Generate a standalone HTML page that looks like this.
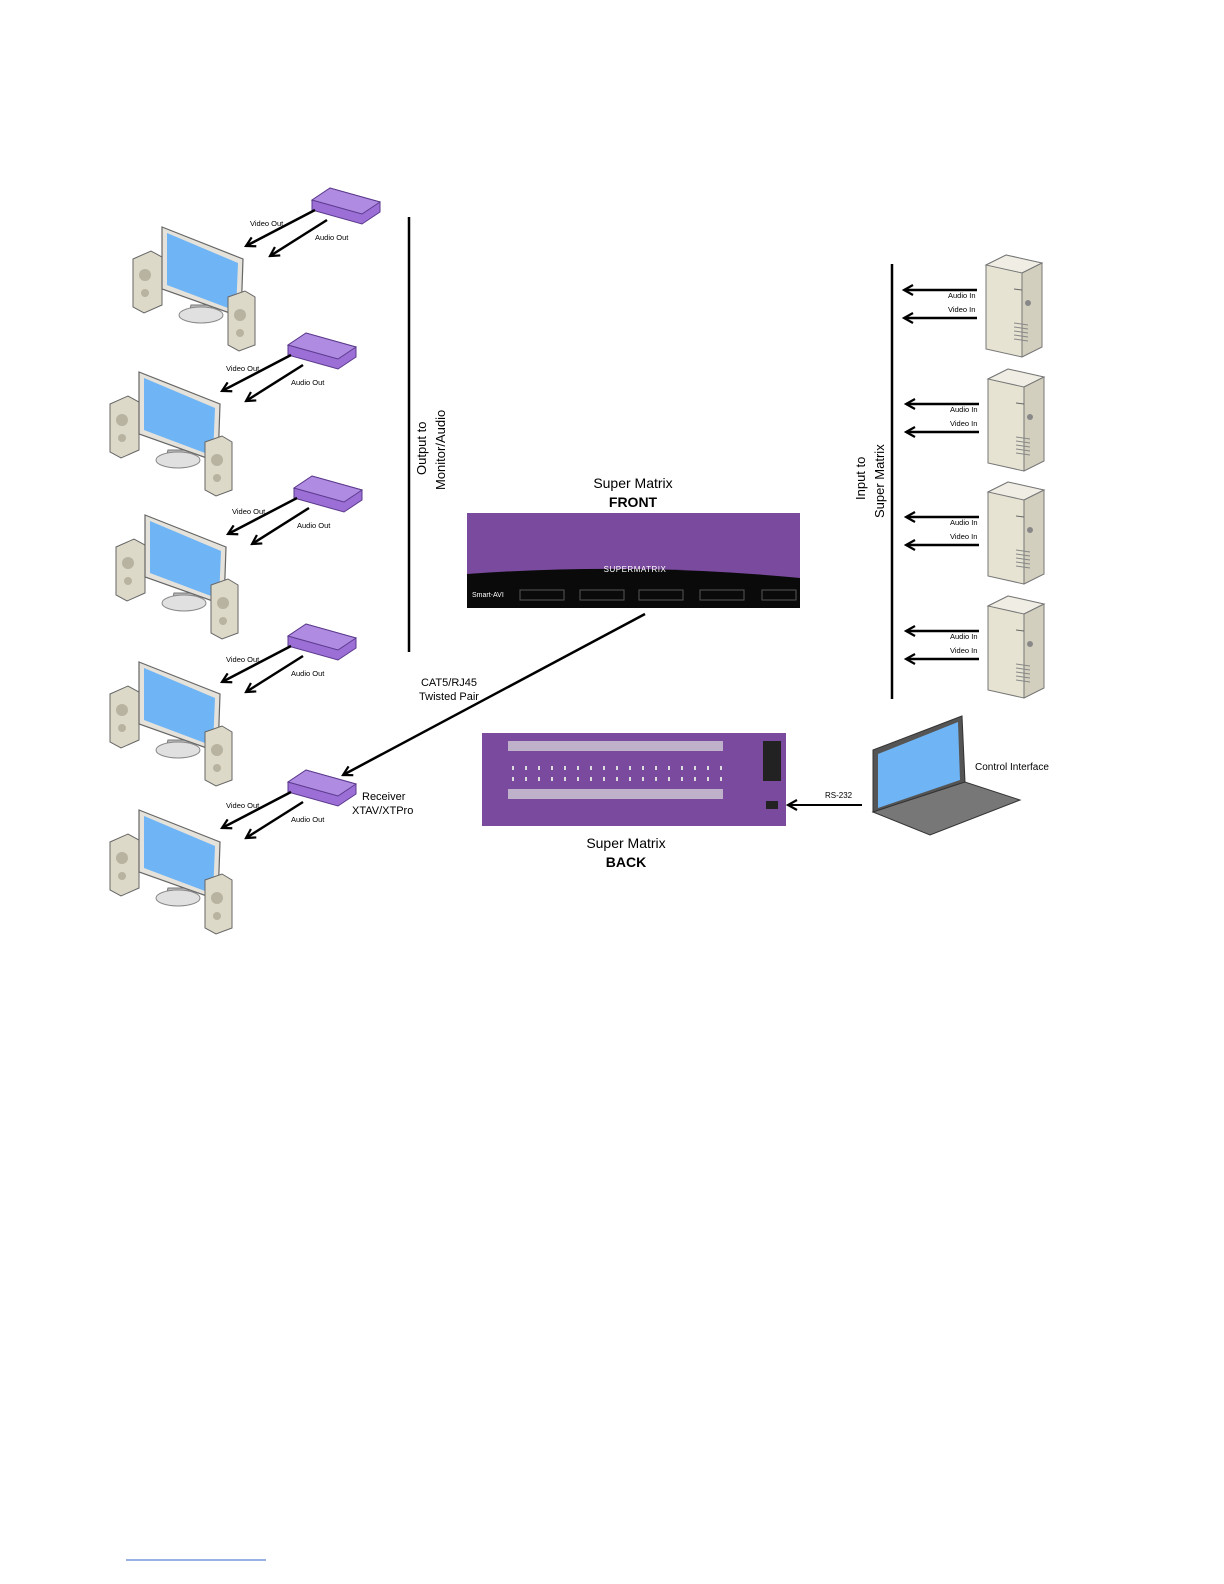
<!DOCTYPE html>
<html><head><meta charset="utf-8"><style>
html,body{margin:0;padding:0;background:#fff;}
svg{display:block;font-family:"Liberation Sans",Arial,sans-serif;}
</style></head><body>
<svg width="1224" height="1584" viewBox="0 0 1224 1584" xmlns="http://www.w3.org/2000/svg">
<defs>
<marker id="ah" markerWidth="12" markerHeight="12" refX="10" refY="6" orient="auto" markerUnits="userSpaceOnUse">
<path d="M1,1 L10,6 L1,11" fill="none" stroke="#000" stroke-width="2.2"/>
</marker>
<g id="mon">
<polygon points="0,34 18,26 29,32 29,80 11,88 0,82" fill="#ddd9c8" stroke="#666" stroke-width="1"/>
<circle cx="12" cy="50" r="6" fill="#b8b3a0"/><circle cx="12" cy="68" r="4" fill="#b8b3a0"/>
<polygon points="58,80 78,80 80,88 56,88" fill="#bbb" stroke="#777"/>
<ellipse cx="68" cy="90" rx="22" ry="8" fill="#e0e0e0" stroke="#888"/>
<polygon points="29,2 110,34 108,92 29,64" fill="#e4e2da" stroke="#666" stroke-width="1.2"/>
<polygon points="34,8 105,38 103,86 34,60" fill="#6fb4f5"/>
<polygon points="95,72 112,66 122,72 122,120 106,126 95,120" fill="#ddd9c8" stroke="#666"/>
<circle cx="107" cy="90" r="6" fill="#b8b3a0"/><circle cx="107" cy="108" r="4" fill="#b8b3a0"/>
</g>
<g id="box">
<polygon points="0,12 18,0 68,14 68,24 50,36 0,22" fill="#9b6fd6" stroke="#5b3a8c" stroke-width="1"/>
<polygon points="0,12 18,0 68,14 50,26" fill="#b08be2" stroke="#5b3a8c" stroke-width="1"/>
<line x1="3" y1="22" x2="-66" y2="58" stroke="#000" stroke-width="2.5" marker-end="url(#ah)"/>
<line x1="15" y1="32" x2="-42" y2="68" stroke="#000" stroke-width="2.5" marker-end="url(#ah)"/>
<text x="-62" y="38" font-size="7.5">Video Out</text>
<text x="3" y="52" font-size="7.5">Audio Out</text>
</g>
<g id="tower">
<polygon points="0,10 20,0 56,8 56,92 36,102 0,94" fill="#e6e3d3" stroke="#777"/>
<polygon points="0,10 20,0 56,8 36,18" fill="#f0eee4" stroke="#777"/>
<polygon points="36,18 56,8 56,92 36,102" fill="#d3cfbe" stroke="#777"/>
<line x1="28" y1="34" x2="36" y2="35" stroke="#666"/>
<circle cx="42" cy="48" r="3" fill="#888"/>
<g stroke="#888"><line x1="28" y1="68" x2="42" y2="70"/><line x1="28" y1="72" x2="42" y2="74"/><line x1="28" y1="76" x2="42" y2="78"/><line x1="28" y1="80" x2="42" y2="82"/><line x1="28" y1="84" x2="42" y2="86"/></g>
<line x1="-9" y1="35" x2="-82" y2="35" stroke="#000" stroke-width="2.5" marker-end="url(#ah)"/>
<line x1="-9" y1="63" x2="-82" y2="63" stroke="#000" stroke-width="2.5" marker-end="url(#ah)"/>
<text x="-38" y="43" font-size="7.5">Audio In</text>
<text x="-38" y="57" font-size="7.5">Video In</text>
</g>
</defs>

<use href="#mon" x="133" y="225"/>
<use href="#mon" x="110" y="370"/>
<use href="#mon" x="116" y="513"/>
<use href="#mon" x="110" y="660"/>
<use href="#mon" x="110" y="808"/>
<use href="#box" x="312" y="188"/>
<use href="#box" x="288" y="333"/>
<use href="#box" x="294" y="476"/>
<use href="#box" x="288" y="624"/>
<use href="#box" x="288" y="770"/>

<use href="#tower" x="986" y="255"/>
<use href="#tower" x="988" y="369"/>
<use href="#tower" x="988" y="482"/>
<use href="#tower" x="988" y="596"/>

<line x1="409" y1="217" x2="409" y2="652" stroke="#000" stroke-width="2.5"/>
<line x1="892" y1="264" x2="892" y2="699" stroke="#000" stroke-width="2.5"/>
<text transform="translate(426,475) rotate(-90)" font-size="13">Output to</text>
<text transform="translate(445,490) rotate(-90)" font-size="13">Monitor/Audio</text>
<text transform="translate(865,500) rotate(-90)" font-size="13">Input to</text>
<text transform="translate(884,518) rotate(-90)" font-size="13">Super Matrix</text>

<text x="633" y="488" font-size="14" text-anchor="middle">Super Matrix</text>
<text x="633" y="507" font-size="14" font-weight="bold" text-anchor="middle">FRONT</text>
<rect x="467" y="513" width="333" height="95" fill="#7a4a9e"/>
<path d="M467,574 Q633,562 800,578 L800,608 L467,608 Z" fill="#0a0a0a"/>
<text x="635" y="572" font-size="8" fill="#fff" text-anchor="middle" letter-spacing="0.5">SUPERMATRIX</text>
<text x="472" y="597" font-size="7" fill="#fff">Smart-AVI</text>
<g fill="none" stroke="#555"><rect x="520" y="590" width="44" height="10"/><rect x="580" y="590" width="44" height="10"/><rect x="639" y="590" width="44" height="10"/><rect x="700" y="590" width="44" height="10"/><rect x="762" y="590" width="34" height="10"/></g>

<line x1="645" y1="614" x2="343" y2="775" stroke="#000" stroke-width="2.5" marker-end="url(#ah)"/>
<text x="449" y="686" font-size="11" text-anchor="middle">CAT5/RJ45</text>
<text x="449" y="700" font-size="11" text-anchor="middle">Twisted Pair</text>
<text x="362" y="800" font-size="11">Receiver</text>
<text x="352" y="814" font-size="11">XTAV/XTPro</text>

<rect x="482" y="733" width="304" height="93" fill="#7a4a9e"/>
<g fill="#ddd"><rect x="508" y="741" width="215" height="10" opacity="0.7"/><rect x="508" y="789" width="215" height="10" opacity="0.7"/></g>
<g fill="none" stroke="#ddd" stroke-dasharray="2 11"><line x1="512" y1="768" x2="722" y2="768" stroke-width="4"/><line x1="512" y1="779" x2="722" y2="779" stroke-width="4"/></g>
<rect x="763" y="741" width="18" height="40" fill="#222"/>
<rect x="766" y="801" width="12" height="8" fill="#222"/>
<text x="626" y="848" font-size="14" text-anchor="middle">Super Matrix</text>
<text x="626" y="867" font-size="14" font-weight="bold" text-anchor="middle">BACK</text>

<polygon points="873,750 962,716 965,782 873,812" fill="#555" stroke="#333"/>
<polygon points="878,754 958,722 960,780 878,808" fill="#6fb4f5"/>
<polygon points="873,812 965,782 1020,800 930,835" fill="#777" stroke="#333"/>
<line x1="862" y1="805" x2="788" y2="805" stroke="#000" stroke-width="2" marker-end="url(#ah)"/>
<text x="825" y="798" font-size="8">RS-232</text>
<text x="975" y="770" font-size="10">Control Interface</text>

<line x1="126" y1="1560" x2="266" y2="1560" stroke="#3366cc" stroke-width="1"/>
</svg>
</body></html>
